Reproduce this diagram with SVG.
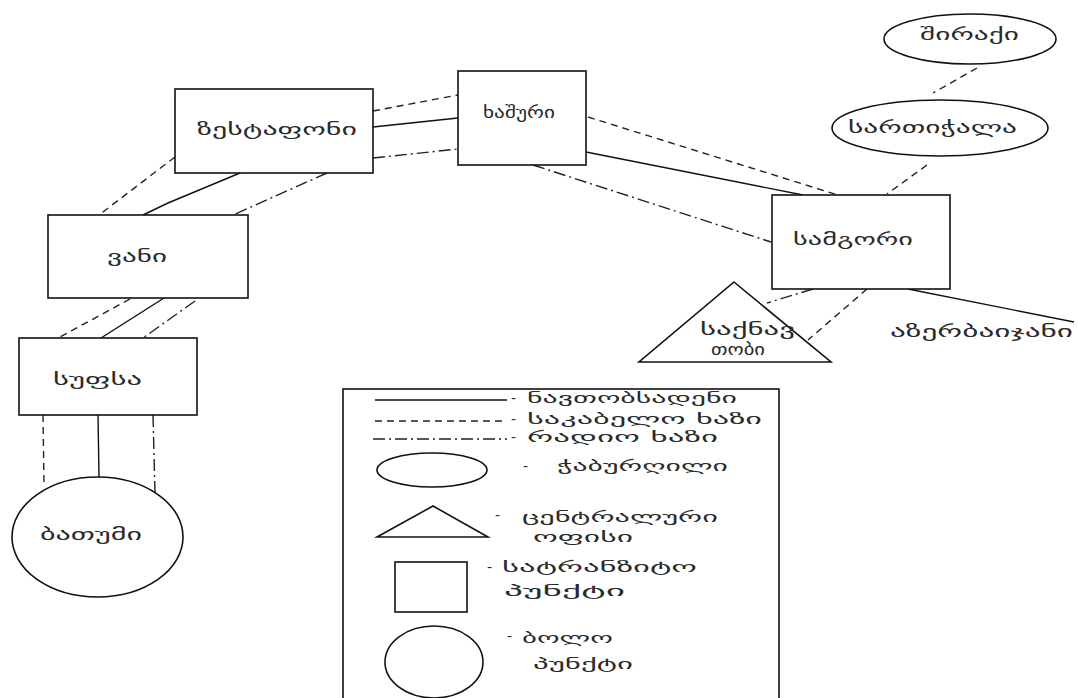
<svg xmlns="http://www.w3.org/2000/svg" width="1078" height="698" viewBox="0 0 1078 698">
  <style>
    .shape { fill: #fff; stroke: #111; stroke-width: 1.6; }
    .solid { fill: none; stroke: #111; stroke-width: 1.4; }
    .cable { fill: none; stroke: #222; stroke-width: 1.4; stroke-dasharray: 7 5; }
    .radio { fill: none; stroke: #222; stroke-width: 1.4; stroke-dasharray: 12 4 2 4; }
    text { font-family: "DejaVu Sans", "Noto Sans", sans-serif; font-size: 16px; fill: #2a2a2a; }
    .key { font-size: 14px; }
  </style>
  <rect width="1078" height="698" fill="#fff"/>

  <!-- connectors -->
  <g id="connectors">
    <!-- Zestafoni - Khashuri -->
    <line class="cable" x1="373" y1="111" x2="458" y2="95"/>
    <line class="solid" x1="373" y1="127" x2="458" y2="118"/>
    <line class="radio" x1="373" y1="158" x2="458" y2="149"/>
    <!-- Zestafoni - Vani -->
    <line class="cable" x1="175" y1="157" x2="99" y2="215"/>
    <path class="solid" d="M240,173 L168,203 L143,215"/>
    <line class="radio" x1="327" y1="173" x2="233" y2="215"/>
    <!-- Vani - Sufsa -->
    <line class="cable" x1="130" y1="299" x2="60" y2="337"/>
    <line class="solid" x1="164" y1="298" x2="101" y2="338"/>
    <line class="radio" x1="195" y1="301" x2="143" y2="338"/>
    <!-- Sufsa - Batumi -->
    <line class="cable" x1="43" y1="415" x2="44" y2="486"/>
    <line class="solid" x1="98" y1="415" x2="99" y2="477"/>
    <line class="radio" x1="153" y1="415" x2="155" y2="493"/>
    <!-- Khashuri - Samgori -->
    <line class="cable" x1="588" y1="117" x2="838" y2="195"/>
    <line class="solid" x1="586" y1="152" x2="803" y2="195"/>
    <line class="radio" x1="533" y1="165" x2="771" y2="242"/>
    <!-- Shiraki - Sartichala - Samgori -->
    <line class="cable" x1="977" y1="68" x2="933" y2="93"/>
    <line class="cable" x1="927" y1="165" x2="887" y2="194"/>
    <!-- Samgori - Saknavtobi -->
    <line class="radio" x1="813" y1="289" x2="767" y2="303"/>
    <line class="cable" x1="867" y1="289" x2="808" y2="340"/>
    <!-- Samgori - Azerbaijan -->
    <line class="solid" x1="908" y1="289" x2="1074" y2="322"/>
  </g>

  <!-- transit points -->
  <g id="zestafoni">
    <rect class="shape" x="175" y="89" width="198" height="84"/>
    <text x="197" y="135" textLength="160" lengthAdjust="spacingAndGlyphs">ზესტაფონი</text>
  </g>
  <g id="khashuri">
    <rect class="shape" x="458" y="71" width="128" height="94"/>
    <text x="483" y="118" textLength="72" lengthAdjust="spacingAndGlyphs">ხაშური</text>
  </g>
  <g id="vani">
    <rect class="shape" x="48" y="215" width="200" height="83"/>
    <text x="107" y="262" textLength="60" lengthAdjust="spacingAndGlyphs">ვანი</text>
  </g>
  <g id="sufsa">
    <rect class="shape" x="19" y="338" width="178" height="77"/>
    <text x="53" y="385" textLength="89" lengthAdjust="spacingAndGlyphs">სუფსა</text>
  </g>
  <g id="samgori">
    <rect class="shape" x="772" y="195" width="178" height="94"/>
    <text x="793" y="245" textLength="120" lengthAdjust="spacingAndGlyphs">სამგორი</text>
  </g>

  <!-- end point -->
  <g id="batumi">
    <ellipse class="shape" cx="97.5" cy="537" rx="85.5" ry="60"/>
    <text x="40" y="540" textLength="102" lengthAdjust="spacingAndGlyphs">ბათუმი</text>
  </g>

  <!-- central office -->
  <g id="saknavtobi">
    <polygon class="shape" points="734,282 831,362 639,362"/>
    <text x="700" y="335" textLength="95" lengthAdjust="spacingAndGlyphs">საქნავ</text>
    <text x="711" y="355" textLength="54" lengthAdjust="spacingAndGlyphs">თობი</text>
  </g>

  <!-- wells -->
  <g id="shiraki">
    <ellipse class="shape" cx="970" cy="39" rx="86" ry="25"/>
    <text x="920" y="40" textLength="99" lengthAdjust="spacingAndGlyphs">შირაქი</text>
  </g>
  <g id="sartichala">
    <ellipse class="shape" cx="940" cy="128" rx="108" ry="28"/>
    <text x="848" y="133" textLength="169" lengthAdjust="spacingAndGlyphs">სართიჭალა</text>
  </g>

  <g id="azerbaijan">
    <text x="890" y="337" textLength="183" lengthAdjust="spacingAndGlyphs">აზერბაიჯანი</text>
  </g>

  <!-- legend -->
  <g id="legend">
    <rect class="shape" x="343" y="389" width="436" height="330"/>
    <line class="solid" x1="375" y1="400" x2="507" y2="400"/>
    <text class="key" x="511" y="403">-</text>
    <text class="key" x="527" y="403" textLength="210" lengthAdjust="spacingAndGlyphs">ნავთობსადენი</text>

    <line class="cable" x1="375" y1="421" x2="507" y2="421"/>
    <text class="key" x="511" y="424">-</text>
    <text class="key" x="527" y="424" textLength="235" lengthAdjust="spacingAndGlyphs">საკაბელო ხაზი</text>

    <line class="radio" x1="373" y1="439" x2="507" y2="439"/>
    <text class="key" x="511" y="442">-</text>
    <text class="key" x="527" y="442" textLength="191" lengthAdjust="spacingAndGlyphs">რადიო ხაზი</text>

    <ellipse class="shape" cx="432" cy="470" rx="55" ry="17"/>
    <text class="key" x="523" y="471">-</text>
    <text class="key" x="557" y="471" textLength="171" lengthAdjust="spacingAndGlyphs">ჭაბურღილი</text>

    <polygon class="shape" points="433,506 488,537 377,537"/>
    <text class="key" x="495" y="520">-</text>
    <text class="key" x="522" y="522" textLength="196" lengthAdjust="spacingAndGlyphs">ცენტრალური</text>
    <text class="key" x="533" y="542" textLength="100" lengthAdjust="spacingAndGlyphs">ოფისი</text>

    <rect class="shape" x="395" y="562" width="72" height="50"/>
    <text class="key" x="487" y="572">-</text>
    <text class="key" x="502" y="572" textLength="195" lengthAdjust="spacingAndGlyphs">სატრანზიტო</text>
    <text class="key" x="504" y="596" textLength="121" lengthAdjust="spacingAndGlyphs">პუნქტი</text>

    <ellipse class="shape" cx="434" cy="662" rx="49" ry="36"/>
    <text class="key" x="507" y="641">-</text>
    <text class="key" x="522" y="643" textLength="91" lengthAdjust="spacingAndGlyphs">ბოლო</text>
    <text class="key" x="533" y="669" textLength="100" lengthAdjust="spacingAndGlyphs">პუნქტი</text>
  </g>
</svg>
